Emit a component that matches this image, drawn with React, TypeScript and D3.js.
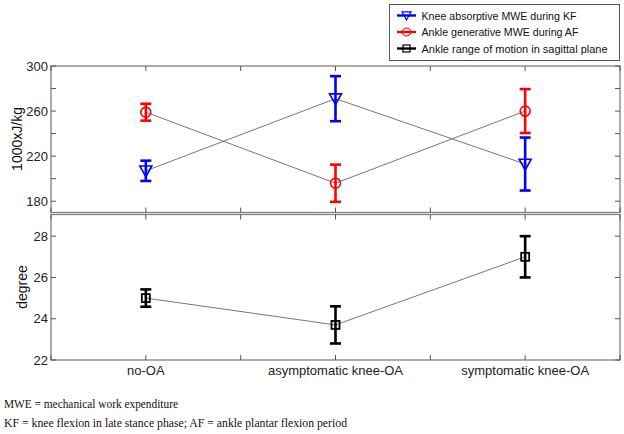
import React from "react";
import * as d3 from "d3";

const categories = ["no-OA", "asymptomatic knee-OA", "symptomatic knee-OA"];
const kneeMean = [207, 271, 213];
const kneeErr = [9, 20, 23.5];
const ankleMean = [259, 196, 260];
const ankleErr = [7.5, 16.5, 19.5];
const romMean = [25.0, 23.7, 27.0];
const romErr = [0.42, 0.9, 1.0];
const topTicks = [180, 200, 220, 240, 260, 280, 300];
const topLabels = [180, 220, 260, 300];
const botTicks = [22, 24, 26, 28];
const legendLabels = [
  "Knee absorptive MWE during KF",
  "Ankle generative MWE during AF",
  "Ankle range of motion in sagittal plane",
];
const notes = [
  "MWE = mechanical work expenditure",
  "KF = knee flexion in late stance phase; AF = ankle plantar flexion period",
];
const legendWidths = [155, 157, 186];
const noteWidths = [174, 343];

const W = 624, H = 434;
const L = 51, R = 620;
const frame = "#808080";
const font = "Arial, 'Liberation Sans', sans-serif";

export default function App() {
  const x = d3.scaleLinear().domain([0.5, 3.5]).range([L, R]);
  const yT = d3.scaleLinear().domain([170, 300]).range([212.5, 66]);
  const yB = d3.scaleLinear().domain([22, 29.05]).range([360, 214.5]);
  const xTicks = d3.range(0.5, 3.51, 0.5);
  const line = (ys: number[], sc: d3.ScaleLinear<number, number>) =>
    d3.line<number>().x((_, i) => x(i + 1)).y((v) => sc(v))(ys) || "";

  const errBars = (m: number[], e: number[], sc: any, color: string) =>
    m.map((v, i) => {
      const cx = x(i + 1);
      return (
        <g key={"e" + color + i} stroke={color} strokeWidth={2.6} fill="none">
          <line x1={cx} x2={cx} y1={sc(v - e[i])} y2={sc(v + e[i])} />
          <line x1={cx - 5.5} x2={cx + 5.5} y1={sc(v - e[i])} y2={sc(v - e[i])} />
          <line x1={cx - 5.5} x2={cx + 5.5} y1={sc(v + e[i])} y2={sc(v + e[i])} />
        </g>
      );
    });

  const tri = (cx: number, cy: number, s: number) =>
    `M${cx - s},${cy - s * 0.8}L${cx + s},${cy - s * 0.8}L${cx},${cy + s}Z`;

  const panel = (y0: number, y1: number, ticksY: number[], sc: any, labels: number[], key: string) => (
    <g key={key}>
      <rect x={L} y={y0} width={R - L} height={y1 - y0} fill="white" stroke={frame} strokeWidth={1.3} />
      {xTicks.map((t) => (
        <g key={"xt" + t} stroke="#555" strokeWidth={1}>
          <line x1={x(t)} x2={x(t)} y1={y1} y2={y1 - 5} />
          <line x1={x(t)} x2={x(t)} y1={y0} y2={y0 + 5} />
        </g>
      ))}
      {ticksY.map((t) => (
        <g key={"yt" + t} stroke="#555" strokeWidth={1}>
          <line x1={L} x2={L + 5} y1={sc(t)} y2={sc(t)} />
          <line x1={R} x2={R - 5} y1={sc(t)} y2={sc(t)} />
        </g>
      ))}
      {labels.map((t) => (
        <text key={"yl" + t} x={L - 3} y={sc(t)} dy="0.35em" textAnchor="end" fontSize={13} fill="#222" fontFamily={font}>
          {t}
        </text>
      ))}
    </g>
  );

  return (
    <svg width={W} height={H} style={{ position: "absolute", left: 0, top: 0, background: "white" }}>
      <rect width={W} height={H} fill="white" />
      {panel(66, 212.5, topTicks, yT, topLabels, "top")}
      {panel(214.5, 360, botTicks, yB, botTicks, "bot")}
      <text transform={`translate(22,${139}) rotate(-90)`} textAnchor="middle" fontSize={14} fontFamily={font} fill="#111">
        1000xJ/kg
      </text>
      <text transform={`translate(27,${287}) rotate(-90)`} textAnchor="middle" fontSize={14} fontFamily={font} fill="#111">
        degree
      </text>
      {categories.map((c, i) => (
        <text key={c} x={x(i + 1)} y={375} textAnchor="middle" fontSize={13} fontFamily={font} fill="#222">
          {c}
        </text>
      ))}

      <path d={line(kneeMean, yT)} fill="none" stroke="#777" strokeWidth={1} />
      <path d={line(ankleMean, yT)} fill="none" stroke="#777" strokeWidth={1} />
      <path d={line(romMean, yB)} fill="none" stroke="#777" strokeWidth={1} />

      {errBars(ankleMean, ankleErr, yT, "#ff0000")}
      {errBars(kneeMean, kneeErr, yT, "#0000ff")}
      {errBars(romMean, romErr, yB, "#000000")}

      {ankleMean.map((v, i) => (
        <circle key={"c" + i} cx={x(i + 1)} cy={yT(v)} r={5} fill="none" stroke="#ff0000" strokeWidth={1.6} />
      ))}
      {kneeMean.map((v, i) => (
        <path key={"t" + i} d={tri(x(i + 1), yT(v), 6)} fill="none" stroke="#0000ff" strokeWidth={1.6} />
      ))}
      {romMean.map((v, i) => (
        <rect key={"s" + i} x={x(i + 1) - 4} y={yB(v) - 4} width={8} height={8} fill="none" stroke="#000" strokeWidth={1.8} />
      ))}

      <g>
        <rect x={389.5} y={4.5} width={230} height={56} fill="white" stroke="#555" strokeWidth={1} />
        {legendLabels.map((lab, i) => {
          const cy = 15.5 + i * 16.5;
          const col = ["#0000ff", "#ff0000", "#000000"][i];
          const cx = 406.5;
          return (
            <g key={lab}>
              <line x1={397} x2={416} y1={cy} y2={cy} stroke={col} strokeWidth={2.4} />
              {i === 0 && <path d={tri(cx, cy, 4.5)} fill="none" stroke={col} strokeWidth={1.2} />}
              {i === 1 && <circle cx={cx} cy={cy} r={4} fill="none" stroke={col} strokeWidth={1.2} />}
              {i === 2 && <rect x={cx - 3.5} y={cy - 3.5} width={7} height={7} fill="none" stroke={col} strokeWidth={1.2} />}
              <text x={421.5} y={cy} dy="0.35em" fontSize={11.5} fontFamily={font} fill="#111"
                textLength={legendWidths[i]} lengthAdjust="spacingAndGlyphs">
                {lab}
              </text>
            </g>
          );
        })}
      </g>

      {notes.map((n, i) => (
        <text key={n} x={4} y={408 + i * 19} fontSize={12} fontFamily="'Liberation Serif', 'Times New Roman', serif" fill="#111"
          textLength={noteWidths[i]} lengthAdjust="spacingAndGlyphs">
          {n}
        </text>
      ))}
    </svg>
  );
}
